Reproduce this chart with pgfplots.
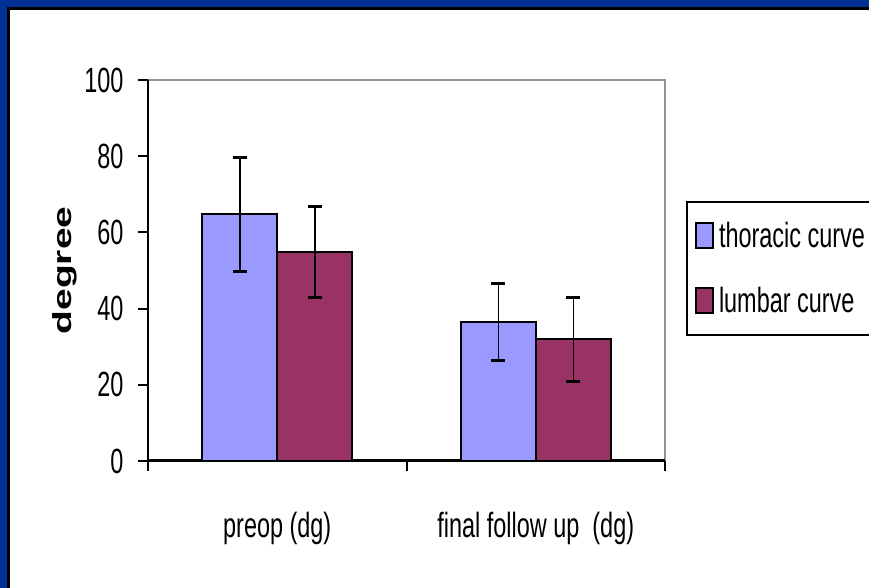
\documentclass[border=0pt]{standalone}
\usepackage{fontspec}
\setmainfont{Liberation Sans}[FakeStretch=0.67]
\newfontfamily\labelfont{Liberation Sans}
\usepackage{graphicx}
\usepackage{pgfplots}
\pgfplotsset{compat=1.18}
\definecolor{frameblue}{RGB}{0,48,148}
\definecolor{thor}{RGB}{153,153,255}
\definecolor{lumb}{RGB}{153,51,102}
\newcommand\chartfont{\fontsize{35}{40}\selectfont}
\begin{document}
\begin{tikzpicture}[x=1pt,y=1pt]
\useasboundingbox (0,0) rectangle (869,588);
\fill[frameblue] (0,0) rectangle (869,588);
\fill[white] (8.5,0) rectangle (869,579.5);
\draw[black, line width=2.5pt] (8.5,0) -- (8.5,579.5) -- (869,579.5);
\begin{axis}[
  at={(148pt,127pt)}, anchor=south west,
  width=517pt, height=381pt, scale only axis,
  xmin=-0.5, xmax=1.5, ymin=0, ymax=100,
  ybar=0pt, bar width=75pt,
  axis x line*=bottom, axis y line*=left,
  x axis line style={line width=3pt},
  y axis line style={line width=2pt},
  axis background/.style={draw=gray!85, line width=1.5pt},
  tick align=outside, major tick length=10pt,
  tick style={line width=2pt, black},
  ytick={0,20,...,100},
  yticklabel style={xshift=-11pt},
  xtick={-0.5,0.5,1.5}, xticklabels={},
  extra x ticks={0,1},
  extra x tick labels={preop (dg), final follow up\ \ (dg)},
  extra x tick style={tick style={draw=none}},
  xticklabel style={yshift=-38pt},
  tick label style={font=\chartfont},
  /pgf/number format/assume math mode=true,
  ylabel={\scalebox{1}[0.67]{\labelfont\bfseries\fontsize{39}{40}\selectfont degree}},
  ylabel style={at={(axis description cs:-0.16,0.5)}, anchor=center},
  legend style={at={(1.0406,0.683)}, anchor=north west, draw=black, line width=2pt,
    font=\chartfont, row sep=34.5pt, inner xsep=6pt, inner ysep=18.5pt},
  legend cell align=left,
]
\addplot[fill=thor, draw=black, line width=2pt,
  legend image code/.code={\draw[fill=thor, draw=black, line width=2pt] (3pt,-12pt) rectangle (20pt,13pt); \path[draw=none, fill=none] (0pt,0pt) -- (24pt,0pt);},
  error bars/.cd, y dir=both, y explicit,
  error bar style={line width=1.5pt, black},
  error mark options={rotate=90, line width=3pt, mark size=7pt, black}]
  coordinates {(0,64.7) +- (0,15.0) (1,36.4) +- (0,10.1)};
\addlegendentry{\makebox[160pt][l]{thoracic curve}}
\addplot[fill=lumb, draw=black, line width=2pt,
  legend image code/.code={\draw[fill=lumb, draw=black, line width=2pt] (3pt,-12pt) rectangle (20pt,13pt); \path[draw=none, fill=none] (0pt,0pt) -- (24pt,0pt);},
  error bars/.cd, y dir=both, y explicit,
  error bar style={line width=1.5pt, black},
  error mark options={rotate=90, line width=3pt, mark size=7pt, black}]
  coordinates {(0,54.9) +- (0,12.0) (1,31.9) +- (0,11.1)};
\addlegendentry{\makebox[160pt][l]{lumbar curve}}
\end{axis}
\end{tikzpicture}
\end{document}
